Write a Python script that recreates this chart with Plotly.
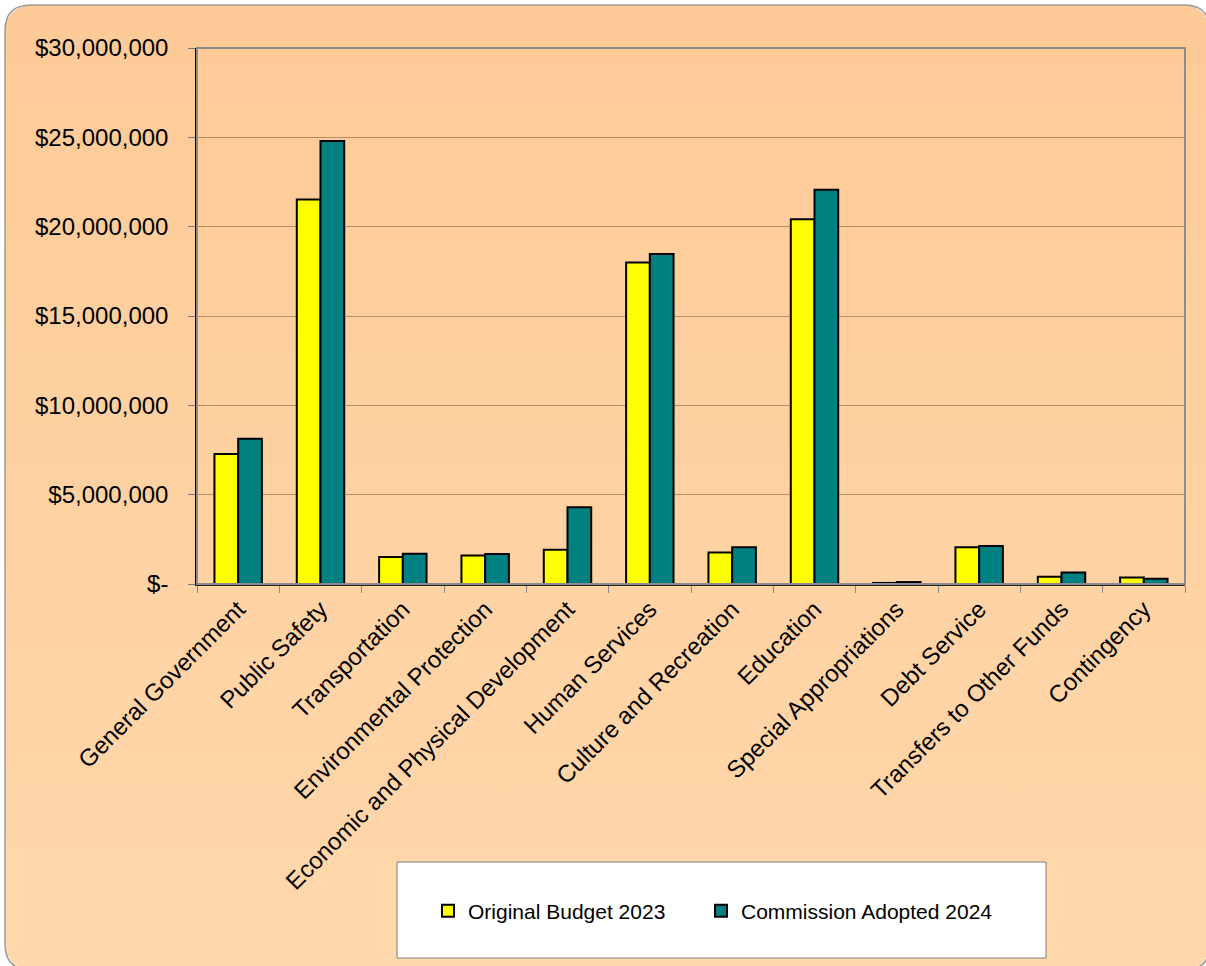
import base64
import plotly.graph_objects as go

categories = ["General Government", "Public Safety", "Transportation", "Environmental Protection",
              "Economic and Physical Development", "Human Services", "Culture and Recreation",
              "Education", "Special Appropriations", "Debt Service", "Transfers to Other Funds",
              "Contingency"]
budget_2023 = [7270000, 21520000, 1510000, 1600000, 1910000, 18000000, 1770000,
               20420000, 60000, 2050000, 410000, 370000]
adopted_2024 = [8130000, 24800000, 1700000, 1680000, 4290000, 18470000, 2050000,
                22060000, 110000, 2130000, 650000, 300000]
y_tickvals = [0, 5000000, 10000000, 15000000, 20000000, 25000000, 30000000]
y_ticktext = ["$-", "$5,000,000", "$10,000,000", "$15,000,000", "$20,000,000",
              "$25,000,000", "$30,000,000"]

W, H = 1206, 966
ML, MR, MT, MB = 197, 21, 48, 382
PW, PH = W - ML - MR, H - MT - MB


def px(x):
    return (x - ML) / PW


def py(y):
    return (H - MB - y) / PH


def rrect_path(x0, y0, x1, y1, r):
    pts = [
        f"M {px(x0 + r)},{py(y0)}",
        f"L {px(x1 - r)},{py(y0)}",
        f"Q {px(x1)},{py(y0)} {px(x1)},{py(y0 + r)}",
        f"L {px(x1)},{py(y1 - r)}",
        f"Q {px(x1)},{py(y1)} {px(x1 - r)},{py(y1)}",
        f"L {px(x0 + r)},{py(y1)}",
        f"Q {px(x0)},{py(y1)} {px(x0)},{py(y1 - r)}",
        f"L {px(x0)},{py(y0 + r)}",
        f"Q {px(x0)},{py(y0)} {px(x0 + r)},{py(y0)}",
        "Z",
    ]
    return " ".join(pts)


# background gradient (outer chart area) as an SVG image
svg = (
    f'<svg xmlns="http://www.w3.org/2000/svg" width="{W}" height="{H}" viewBox="0 0 {W} {H}">'
    '<defs><linearGradient id="g" x1="0" y1="0" x2="0" y2="1">'
    '<stop offset="0" stop-color="#FECA97"/>'
    '<stop offset="1" stop-color="#FFD8AC"/>'
    '</linearGradient></defs>'
    '<rect x="5" y="5" width="1205" height="965" rx="26" ry="26" fill="url(#g)"/>'
    '</svg>'
)
svg_uri = "data:image/svg+xml;base64," + base64.b64encode(svg.encode()).decode()

FONT = "Liberation Sans, Arial, sans-serif"

fig = go.Figure()
fig.add_trace(go.Bar(x=categories, y=budget_2023, name="Original Budget 2023", legend="legend",
                     marker=dict(color="#FFFF00", line=dict(color="#000000", width=2))))
fig.add_trace(go.Bar(x=categories, y=adopted_2024, name="Commission Adopted 2024", legend="legend2",
                     marker=dict(color="#008080", line=dict(color="#000000", width=2))))

shapes = [
    # outer rounded chart border
    dict(type="path", xref="paper", yref="paper", layer="below",
         path=rrect_path(5, 5, 1210, 970, 26),
         fillcolor="rgba(0,0,0,0)", line=dict(color="#9A9A9A", width=1.5)),
    # plot area border (top / right grey)
    dict(type="rect", xref="paper", yref="paper", x0=0, y0=0, x1=1, y1=1,
         line=dict(color="#8C8C8C", width=2), layer="above"),
    # legend box
    dict(type="rect", xref="paper", yref="paper", layer="below",
         x0=px(397), x1=px(1046), y0=py(958), y1=py(862),
         fillcolor="#FFFFFF", line=dict(color="#808080", width=1)),
]

legend_common = dict(orientation="h", xanchor="left", yanchor="middle", y=py(911),
                     bgcolor="rgba(0,0,0,0)", itemwidth=30,
                     font=dict(family=FONT, size=21, color="#000000"))

fig.update_layout(
    width=W, height=H, autosize=False,
    margin=dict(l=ML, r=MR, t=MT, b=MB, pad=0),
    paper_bgcolor="#FFFFFF",
    plot_bgcolor="#FFCB98",
    barmode="group", bargap=0.424, bargroupgap=0,
    font=dict(family=FONT, color="#000000", size=24),
    showlegend=True,
    legend=dict(x=px(428), **legend_common),
    legend2=dict(x=px(701), **legend_common),
    shapes=shapes,
    images=[dict(source=svg_uri, xref="paper", yref="paper", x=px(0), y=py(0),
                 sizex=W / PW, sizey=H / PH, sizing="stretch",
                 xanchor="left", yanchor="top", layer="below")],
)

fig.update_yaxes(range=[0, 30000000], tickvals=y_tickvals, ticktext=y_ticktext,
                 showgrid=True, gridcolor="#B88E68", gridwidth=1,
                 showline=True, linecolor="#000000", linewidth=1.5,
                 ticks="outside", ticklen=7, tickcolor="#7A7A7A", tickwidth=1,
                 ticklabelstandoff=15, zeroline=False,
                 tickfont=dict(family=FONT, size=24, color="#000000"))
fig.update_xaxes(tickangle=-45, showline=True, linecolor="#222222", linewidth=1.5,
                 ticks="outside", ticklen=7, tickcolor="#8A8A8A", tickwidth=1,
                 tickson="boundaries", showgrid=False,
                 tickfont=dict(family=FONT, size=24, color="#000000"))

fig.write_html("out.html")
